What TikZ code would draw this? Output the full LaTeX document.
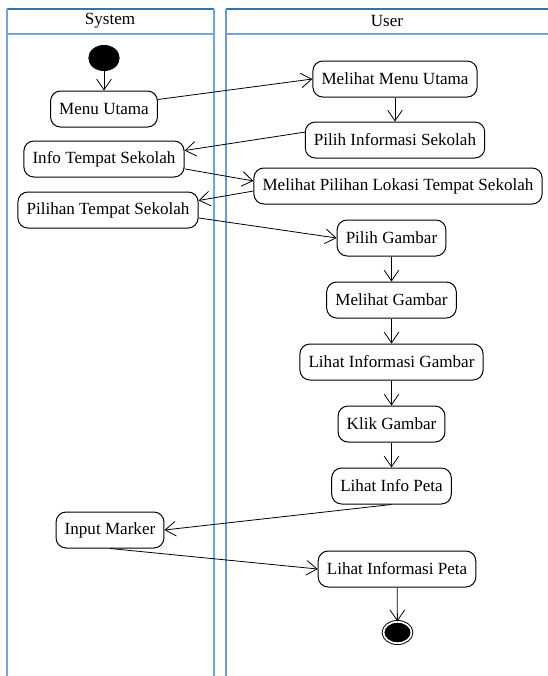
\documentclass[tikz,border=0pt]{standalone}
\usepackage{fontspec}
\setmainfont{Liberation Serif}
\usetikzlibrary{arrows.meta, positioning, shapes.geometric}

\definecolor{lanetop}{RGB}{46,117,182}
\definecolor{laneline}{RGB}{112,168,220}

\tikzset{
  act/.style={draw, rounded corners=7.5pt, minimum height=27pt, inner xsep=6.5pt,
    line width=0.75pt, font=\fontsize{12.8}{15}\selectfont},
  flow/.style={-{Straight Barb[length=8pt,width=11pt]}, line width=0.6pt},
  startstate/.style={ellipse, fill=black, minimum width=23.5pt, minimum height=19.5pt, inner sep=0pt},
  endstate/.style={ellipse, draw, fill=black, double=white, double distance=1.3pt,
    line width=0.7pt, minimum width=21pt, minimum height=16pt, inner sep=0pt},
  lanetitle/.style={font=\fontsize{12.8}{15}\selectfont},
}

\begin{document}
\begin{tikzpicture}[x=0.75pt, y=-0.75pt, node distance=18.75pt]
  \useasboundingbox (0,0) rectangle (548,676);

  % swimlanes
  \draw[lanetop, line width=1.3pt] (7,9) -- (214,9);
  \draw[lanetop, line width=1.3pt] (226,9) -- (548,9);
  \draw[laneline, line width=1.5pt] (7,34) -- (214,34);
  \draw[laneline, line width=1.5pt] (226,34) -- (548,34);
  \draw[laneline, line width=1.5pt] (7,9) -- (7,676);
  \draw[laneline, line width=1.5pt] (214,9) -- (214,676);
  \draw[laneline!80!lanetop, line width=1.5pt] (226,9) -- (226,676);
  \node[lanetitle] (system) at (110,21) {System};
  \node[lanetitle] (user) at (387,21) {User};

  % system lane
  \node[startstate] (start) at (104,58) {};
  \node[act] (mu) at (104,109) {Menu Utama};
  \node[act] (its) at (104,159) {Info Tempat Sekolah};
  \node[act] (pts) at (108,210) {Pilihan Tempat Sekolah};
  \node[act] (im) at (110,530) {Input Marker};

  % user lane
  \node[act] (mmu) at (395,79) {Melihat Menu Utama};
  \node[act] (pis) at (395,140) {Pilih Informasi Sekolah};
  \node[act] (mpl) at (398,186) {Melihat Pilihan Lokasi Tempat Sekolah};
  \node[act] (pg) at (391.5,238) {Pilih Gambar};
  \node[act, below=of pg] (mg) {Melihat Gambar};
  \node[act, below=of mg] (lig) {Lihat Informasi Gambar};
  \node[act, below=of lig] (kg) {Klik Gambar};
  \node[act, below=of kg] (lip) {Lihat Info Peta};
  \node[act] (lipeta) at (397,569) {Lihat Informasi Peta};
  \node[endstate] (end) at (397.5,632.5) {};

  % flows
  \draw[flow] (start) -- (mu);
  \draw[flow] (mu.10) -- (mmu.west);
  \draw[flow] (mmu) -- (pis);
  \draw[flow] (pis.175) -- (its.6);
  \draw[flow] (its.-7) -- (mpl.178);
  \draw[flow] (mpl.182) -- (pts.6);
  \draw[flow] (pts.-5) -- (pg.west);
  \draw[flow] (pg) -- (mg);
  \draw[flow] (mg) -- (lig);
  \draw[flow] (lig) -- (kg);
  \draw[flow] (kg) -- (lip);
  \draw[flow] (lip.south) -- (im.east);
  \draw[flow] (im.south) -- (lipeta.west);
  \draw[flow] (lipeta) -- (end);
\end{tikzpicture}
\end{document}
